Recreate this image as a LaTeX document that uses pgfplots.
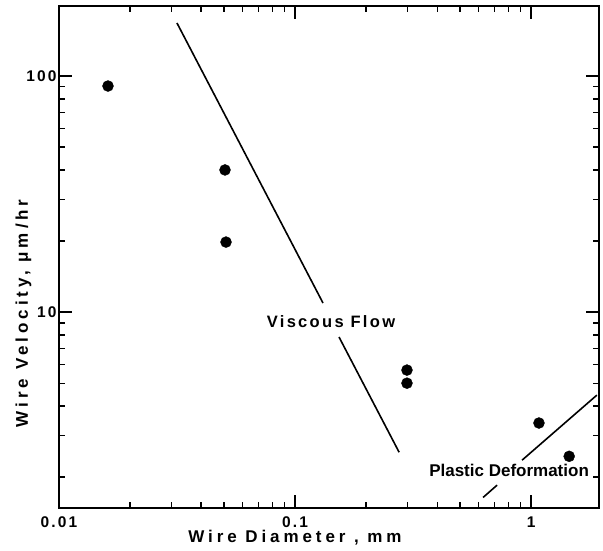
\documentclass[border=0pt]{standalone}
\usepackage{fontspec}
\setmainfont{Liberation Sans}
\usepackage{pgfplots}
\pgfplotsset{compat=1.18}
\begin{document}
\begin{tikzpicture}
\begin{axis}[
 xmode=log, ymode=log,
 scale only axis, width=540pt, height=502pt,
 xmin=0.01, xmax=1.94, ymin=1.48, ymax=198,
 xtick={0.01,0.1,1}, xticklabels={0.01,0.1,1},
 ytick={10,100}, yticklabels={10,100},
 minor xtick={0.02,0.03,0.04,0.05,0.06,0.07,0.08,0.09,0.2,0.3,0.4,0.5,0.6,0.7,0.8,0.9},
 minor ytick={2,3,4,5,6,7,8,9,20,30,40,50,60,70,80,90},
 major tick length=13pt, minor tick length=6pt,
 axis line style={line width=1.6pt},
 every tick/.style={black, line width=1.3pt},
 tick label style={font=\fontsize{15.5}{15.5}\selectfont\bfseries\addfontfeatures{LetterSpace=14}},
 yticklabel style={xshift=1pt},
 xticklabel style={yshift=-5pt},
 /pgf/number format/assume math mode=true,
 xlabel={Wire Diameter , mm},
 ylabel={Wire Velocity, μm/hr},
 xlabel style={at={([yshift=-35pt]axis description cs:0.437,0)}, anchor=base,
   font=\fontsize{17}{17}\selectfont\bfseries\addfontfeatures{LetterSpace=23}},
 ylabel style={at={([xshift=-31pt]axis description cs:0,0.388)}, anchor=base,
   font=\fontsize{17}{17}\selectfont\bfseries\addfontfeatures{LetterSpace=23}},
]
\addplot[only marks, mark=*, mark size=5.5pt, black] coordinates {
 (0.01613,90.7) (0.0505,40.0) (0.0510,19.8) (0.298,5.68) (0.298,5.00) (1.08,3.39) (1.45,2.45)};
\addplot[black, line width=1.6pt] coordinates {(0.0316,167.8) (0.1314,10.92)};
\addplot[black, line width=1.6pt] coordinates {(0.1536,7.84) (0.276,2.55)};
\addplot[black, line width=1.6pt] coordinates {(0.626,1.64) (0.718,1.85)};
\addplot[black, line width=1.6pt] coordinates {(0.916,2.36) (1.90,4.45)};
\node[anchor=base, font=\fontsize{16.5}{16.5}\selectfont\bfseries\addfontfeatures{LetterSpace=14}] at (axis cs:0.142,8.64) {Viscous Flow};
\node[anchor=base, font=\fontsize{17}{17}\selectfont\bfseries] at (axis cs:0.807,2.02) {Plastic Deformation};
\end{axis}
\pgfresetboundingbox
\useasboundingbox (-59pt,-43pt) rectangle (544pt,508pt);
\end{tikzpicture}
\end{document}
